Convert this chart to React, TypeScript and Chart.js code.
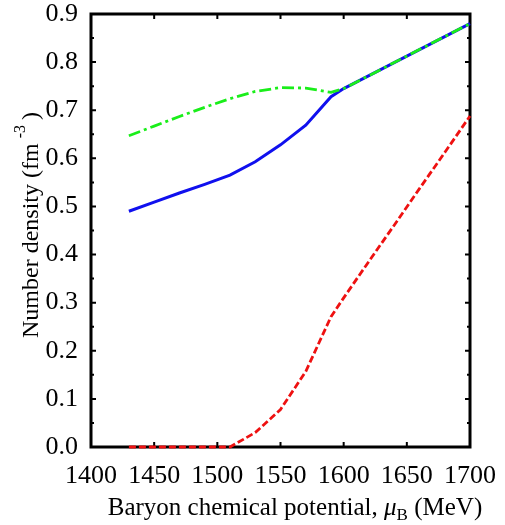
import React, { useEffect, useRef } from "react";
import { Chart, registerables } from "chart.js";

Chart.register(...registerables);

const muB = [1430, 1450, 1470, 1490, 1510, 1530, 1550, 1570, 1590, 1600, 1620, 1640, 1660, 1680, 1700];
const greenDensity = [0.647, 0.667, 0.687, 0.706, 0.724, 0.739, 0.747, 0.746, 0.737, 0.745, 0.772, 0.799, 0.826, 0.853, 0.88];
const blueDensity = [0.49, 0.509, 0.528, 0.546, 0.565, 0.593, 0.628, 0.669, 0.728, 0.745, 0.772, 0.799, 0.826, 0.853, 0.88];
const redDensity = [0, 0, 0, 0, 0, 0.03, 0.078, 0.157, 0.271, 0.31, 0.386, 0.461, 0.537, 0.612, 0.688];

const xTitleMain = "Baryon chemical potential, ";
const xTitleSym = "μ";
const xTitleSub = "B";
const xTitleEnd = " (MeV)";
const yTitleMain = "Number density (fm";
const yTitleSup = "-3";
const yTitleEnd = ")";

const FONT = "'Liberation Serif', 'Times New Roman', serif";

const pts = (ys: number[]) => muB.map((x, i) => ({ x, y: ys[i] }));

const framePlugin = {
  id: "frame",
  beforeDatasetsDraw(chart: any) {
    const ctx = chart.ctx;
    const a = chart.chartArea;
    const xs = chart.scales.x;
    const ys = chart.scales.y;
    ctx.save();
    ctx.strokeStyle = "#000";
    ctx.lineWidth = 2;
    for (let v = 1450; v < 1700; v += 50) {
      const px = xs.getPixelForValue(v);
      ctx.beginPath();
      ctx.moveTo(px, a.bottom);
      ctx.lineTo(px, a.bottom - 5);
      ctx.moveTo(px, a.top);
      ctx.lineTo(px, a.top + 5);
      ctx.stroke();
    }
    for (let k = 1; k < 18; k++) {
      const v = k * 0.05;
      const py = ys.getPixelForValue(v);
      const len = k % 2 === 0 ? 5 : 3;
      ctx.beginPath();
      ctx.moveTo(a.left, py);
      ctx.lineTo(a.left + len, py);
      ctx.moveTo(a.right, py);
      ctx.lineTo(a.right - len, py);
      ctx.stroke();
    }
    ctx.lineWidth = 3;
    ctx.strokeRect(a.left, a.top, a.right - a.left, a.bottom - a.top);
    ctx.restore();
  },
  afterDraw(chart: any) {
    const ctx = chart.ctx;
    ctx.save();
    ctx.fillStyle = "#000";
    ctx.textBaseline = "alphabetic";
    ctx.textAlign = "left";
    const fMain = `25px ${FONT}`;
    const fIt = `italic 25px ${FONT}`;
    const fSmall = `17px ${FONT}`;
    ctx.font = fMain;
    const w1 = ctx.measureText(xTitleMain).width;
    const w4 = ctx.measureText(xTitleEnd).width;
    ctx.font = fIt;
    const w2 = ctx.measureText(xTitleSym).width;
    ctx.font = fSmall;
    const w3 = ctx.measureText(xTitleSub).width;
    const total = w1 + w2 + w3 + w4;
    let x0 = 295 - total / 2;
    const base = 515;
    ctx.font = fMain;
    ctx.fillText(xTitleMain, x0, base);
    x0 += w1;
    ctx.font = fIt;
    ctx.fillText(xTitleSym, x0, base);
    x0 += w2;
    ctx.font = fSmall;
    ctx.fillText(xTitleSub, x0, base + 5);
    x0 += w3;
    ctx.font = fMain;
    ctx.fillText(xTitleEnd, x0, base);

    const yMain = `24px ${FONT}`;
    const ySmall = `16px ${FONT}`;
    ctx.save();
    ctx.translate(38, 225);
    ctx.rotate(-Math.PI / 2);
    ctx.font = yMain;
    const v1 = ctx.measureText(yTitleMain).width;
    const v3 = ctx.measureText(yTitleEnd).width;
    ctx.font = ySmall;
    const v2 = ctx.measureText(yTitleSup).width;
    const gap = 5;
    const vt = v1 + gap + v2 + gap + v3;
    let y0 = -vt / 2;
    ctx.font = yMain;
    ctx.fillText(yTitleMain, y0, 0);
    y0 += v1 + gap;
    ctx.font = ySmall;
    ctx.fillText(yTitleSup, y0, -13);
    y0 += v2 + gap;
    ctx.font = yMain;
    ctx.fillText(yTitleEnd, y0, 0);
    ctx.restore();
    ctx.restore();
  },
};

export default function App() {
  const ref = useRef<HTMLCanvasElement>(null);
  useEffect(() => {
    if (!ref.current) return;
    const chart = new Chart(ref.current, {
      type: "line",
      data: {
        datasets: [
          {
            data: pts(greenDensity),
            borderColor: "#1aee1a",
            borderWidth: 2.8,
            borderDash: [12, 4, 3, 4],
            pointRadius: 0,
            tension: 0,
            fill: false,
            clip: false,
          },
          {
            data: pts(blueDensity),
            borderColor: "#1010ee",
            borderWidth: 3,
            pointRadius: 0,
            tension: 0,
            fill: false,
            clip: false,
          },
          {
            data: pts(redDensity),
            borderColor: "#ee1111",
            borderWidth: 2.8,
            borderDash: [7, 3],
            pointRadius: 0,
            tension: 0,
            fill: false,
            clip: false,
          },
        ],
      },
      options: {
        responsive: false,
        animation: false,
        layout: { padding: { top: 14, right: 35, left: 0, bottom: 0 } },
        plugins: { legend: { display: false }, tooltip: { enabled: false }, title: { display: false } },
        scales: {
          x: {
            type: "linear",
            min: 1400,
            max: 1700,
            grid: { display: false },
            border: { display: false },
            ticks: {
              stepSize: 50,
              maxRotation: 0,
              padding: 6,
              color: "#000",
              font: { family: FONT, size: 26 },
              callback: (v: any) => String(v),
            },
            afterFit: (s: any) => {
              s.height = 78;
              s.paddingLeft = 0;
              s.paddingRight = 0;
            },
          },
          y: {
            min: 0,
            max: 0.9,
            grid: { display: false },
            border: { display: false },
            ticks: {
              stepSize: 0.1,
              padding: 5,
              color: "#000",
              font: { family: FONT, size: 26 },
              callback: (v: any) => Number(v).toFixed(1),
            },
            afterFit: (s: any) => {
              s.width = 91;
              s.paddingTop = 0;
              s.paddingBottom = 0;
            },
          },
        },
      },
      plugins: [framePlugin],
    });
    return () => chart.destroy();
  }, []);
  return (
    <div style={{ position: "absolute", left: 0, top: 0, width: 505, height: 525, background: "#fff" }}>
      <canvas ref={ref} width={505} height={525} />
    </div>
  );
}
